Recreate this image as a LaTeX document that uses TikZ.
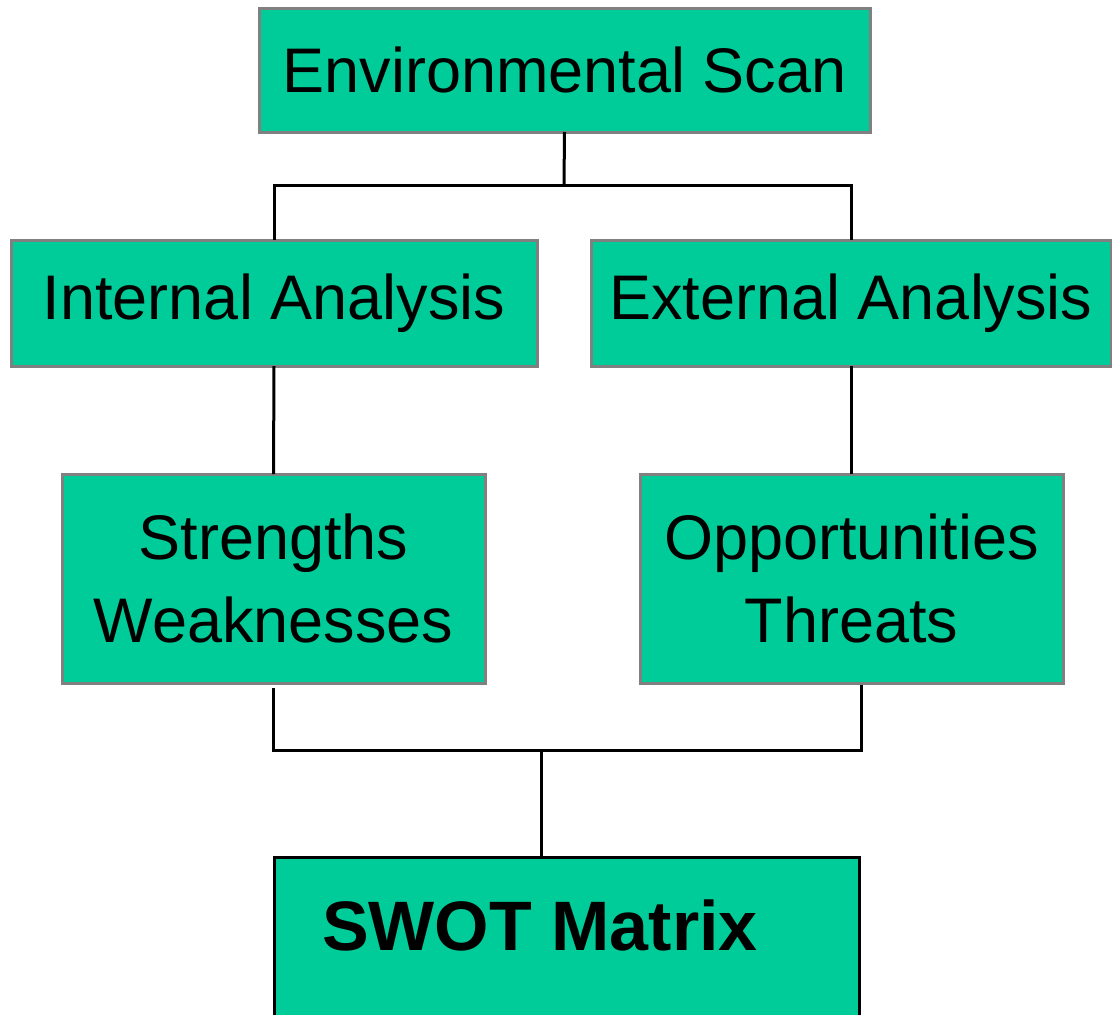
\documentclass[tikz,border=0pt]{standalone}
\usepackage{fontspec}
\setmainfont{Liberation Sans}
\definecolor{boxfill}{HTML}{00CC99}
\definecolor{boxline}{HTML}{808080}
\begin{document}
\begin{tikzpicture}[x=1pt,y=-1pt,
  box/.style={draw=boxline, line width=3pt, fill=boxfill, inner sep=0pt, outer sep=0pt, align=center, font=\fontsize{63}{83}\selectfont},
  conn/.style={draw=black, line width=3pt}]
\useasboundingbox (0,0) rectangle (1112,1015);
\fill[white] (0,0) rectangle (1112,1015);
% boxes
\node[box, minimum width=611pt, minimum height=124pt] (env) at (564.5,70) {Environmental Scan};
\node[box, minimum width=526pt, minimum height=126pt] (int) at (274,303) {Internal Analysis};
\node[box, minimum width=520pt, minimum height=126pt] (ext) at (851,303) {External Analysis};
\node[box, minimum width=423pt, minimum height=209pt] (sw) at (273.5,578.5) {Strengths\\Weaknesses};
\node[box, minimum width=423pt, minimum height=209pt] (ot) at (851.5,578.5) {Opportunities\\Threats};
\node[draw=black, line width=3pt, fill=boxfill, inner sep=0pt, outer sep=0pt, minimum width=585pt, minimum height=200pt] (swot) at (566.5,957) {};
\node[font=\fontsize{70}{84}\selectfont\bfseries] (swott) at (540,925) {SWOT Matrix};
% connectors
\coordinate (j1) at (564,185);
\coordinate (j2) at (541,750);
\coordinate (b1) at (273,688);
\coordinate (b2) at (861,685);
\draw[conn] (env.south) -- (j1);
\draw[conn] (int.north) |- (j1) -| (ext.north);
\draw[conn] (int.south) -- (sw.north);
\draw[conn] (ext.south -| ot.north) -- (ot.north);
\draw[conn] (b1) |- (j2) -| (b2);
\draw[conn] (j2) -- (j2 |- swot.north);
\end{tikzpicture}
\end{document}
